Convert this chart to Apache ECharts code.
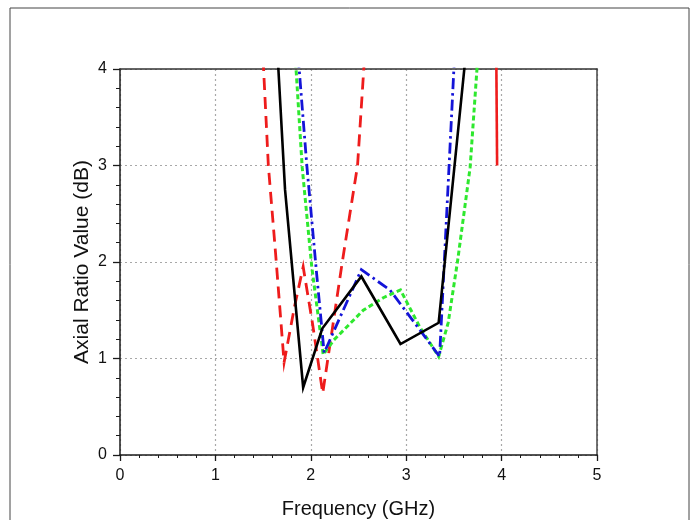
<!DOCTYPE html>
<html>
<head>
<meta charset="utf-8">
<style>
  html, body { margin: 0; padding: 0; background: #fff; }
  #chart { width: 697px; height: 520px; }
</style>
<script src="https://cdn.jsdelivr.net/npm/echarts@6/dist/echarts.min.js"></script>
</head>
<body>
<div id="chart"></div>
<script>
// Axial ratio (dB) versus frequency (GHz) for four antenna configurations.
const xTicks = [0, 1, 2, 3, 4, 5];
const yTicks = [0, 1, 2, 3, 4];

// Solid black curve
const blackFreq = [1.62, 1.73, 1.92, 2.12, 2.53, 2.94, 3.34, 3.65];
const blackAR   = [4.72, 2.75, 0.70, 1.31, 1.85, 1.15, 1.37, 4.40];

// Blue dash-dot curve
const blueFreq = [1.85, 1.96, 2.06, 2.14, 2.53, 2.83, 3.14, 3.35, 3.53];
const blueAR   = [4.35, 2.98, 1.89, 1.06, 1.92, 1.71, 1.30, 1.02, 4.60];

// Green dotted curve
const greenFreq = [1.82, 1.91, 2.01, 2.13, 2.24, 2.55, 2.76, 2.94, 3.14, 3.34, 3.44, 3.54, 3.67, 3.77];
const greenAR   = [4.40, 2.98, 1.95, 1.04, 1.19, 1.50, 1.63, 1.71, 1.33, 1.02, 1.37, 2.02, 2.98, 4.40];

// Red dashed curve
const redFreq = [1.49, 1.555, 1.63, 1.72, 1.83, 1.92, 2.02, 2.125, 2.33, 2.49, 2.575];
const redAR   = [4.30, 3.00, 2.10, 0.96, 1.54, 1.95, 1.35, 0.64, 2.00, 3.00, 4.30];

// Red curve dipping back into range near 3.95 GHz
const redTailFreq = [3.943, 3.953];
const redTailAR   = [4.30, 3.00];

const zip = (xs, ys) => xs.map((x, i) => [x, ys[i]]);

const FONT = '"Liberation Sans", Arial, sans-serif';
const AXIS_COLOR = '#1a1a1a';

const chart = echarts.init(document.getElementById('chart'), null, { renderer: 'canvas' });

const lineSeries = (name, data, color, type, width) => ({
  name,
  type: 'line',
  data,
  symbol: 'none',
  clip: true,
  lineStyle: { color, width, type, cap: 'butt', join: 'miter' },
  z: 3
});

chart.setOption({
  backgroundColor: '#ffffff',
  animation: false,
  grid: { left: 120, right: 100, top: 69, bottom: 65, containLabel: false, outerBoundsMode: 'none' },
  xAxis: [
    {
      type: 'value',
      min: xTicks[0],
      max: xTicks[xTicks.length - 1],
      interval: 1,
      name: 'Frequency (GHz)',
      nameLocation: 'middle',
      nameGap: 44,
      nameMoveOverlap: false,
      nameTextStyle: { fontFamily: FONT, fontSize: 20, color: '#111' },
      axisLine: { show: true, onZero: false, lineStyle: { color: AXIS_COLOR, width: 1.5 } },
      axisTick: { show: true, length: 6, lineStyle: { color: AXIS_COLOR, width: 1.3 } },
      minorTick: { show: true, splitNumber: 5, length: 3, lineStyle: { color: AXIS_COLOR, width: 1 } },
      axisLabel: { fontFamily: FONT, fontSize: 16, color: '#111', margin: 13 },
      splitLine: { show: true, lineStyle: { color: '#a8a8a8', width: 1.2, type: [2, 3] } }
    },
    {
      type: 'value',
      position: 'top',
      min: xTicks[0],
      max: xTicks[xTicks.length - 1],
      axisLine: { show: true, onZero: false, lineStyle: { color: '#333', width: 1.5 } },
      axisTick: { show: false },
      axisLabel: { show: false },
      splitLine: { show: false }
    }
  ],
  yAxis: [
    {
      type: 'value',
      min: yTicks[0],
      max: yTicks[yTicks.length - 1],
      interval: 1,
      name: 'Axial Ratio Value (dB)',
      nameLocation: 'middle',
      nameGap: 27,
      nameMoveOverlap: false,
      nameRotate: 90,
      nameTextStyle: { fontFamily: FONT, fontSize: 21, color: '#111' },
      axisLine: { show: true, onZero: false, lineStyle: { color: AXIS_COLOR, width: 1.5 } },
      axisTick: { show: true, length: 7, lineStyle: { color: AXIS_COLOR, width: 1.3 } },
      minorTick: { show: true, splitNumber: 5, length: 4, lineStyle: { color: AXIS_COLOR, width: 1 } },
      axisLabel: { fontFamily: FONT, fontSize: 16, color: '#111', margin: 13 },
      splitLine: { show: true, lineStyle: { color: '#a8a8a8', width: 1.2, type: [2, 3] } }
    },
    {
      type: 'value',
      position: 'right',
      min: yTicks[0],
      max: yTicks[yTicks.length - 1],
      axisLine: { show: true, onZero: false, lineStyle: { color: '#444', width: 1.5 } },
      axisTick: { show: false },
      axisLabel: { show: false },
      splitLine: { show: false }
    }
  ],
  graphic: [
    {
      type: 'rect',
      shape: { x: 10, y: 8, width: 679, height: 540 },
      style: { fill: 'none', stroke: '#444', lineWidth: 1 },
      silent: true,
      z: -1
    }
  ],
  series: [
    lineSeries('Red', zip(redFreq, redAR), '#ee1c1c', [12, 7], 2.8),
    lineSeries('Red tail', zip(redTailFreq, redTailAR), '#ee1c1c', 'solid', 2.6),
    lineSeries('Green', zip(greenFreq, greenAR), '#2ee82e', [5, 3], 3),
    lineSeries('Blue', zip(blueFreq, blueAR), '#1414d8', [11, 4, 2.5, 4], 2.8),
    lineSeries('Black', zip(blackFreq, blackAR), '#000000', 'solid', 2.6)
  ]
});
</script>
</body>
</html>
